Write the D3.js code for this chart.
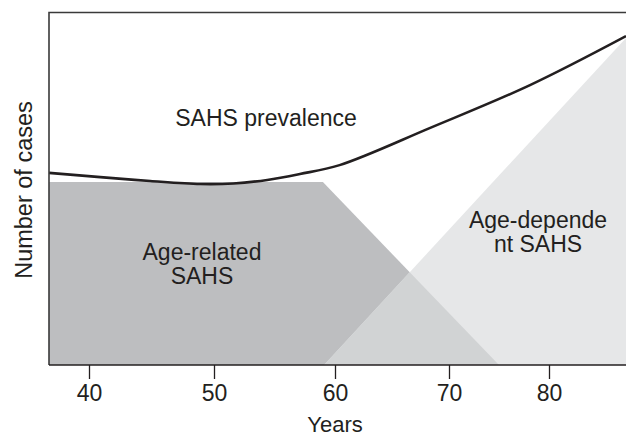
<!DOCTYPE html>
<html><head><meta charset="utf-8">
<script src="https://cdn.jsdelivr.net/npm/d3@7"></script>
<style>body{margin:0;background:#fff}svg{display:block}text{font-family:"Liberation Sans",Arial,Helvetica,sans-serif;fill:#231f20}</style>
</head><body>
<svg id="c" width="626" height="436"></svg>
<script>
// Data
const tickYears = [40, 50, 60, 70, 80];
const xDomainEdges = [36.8, 87.7];
const prevalenceYears = [36.8, 40.9, 44.9, 48.9, 51.6, 54.4, 57.1, 60.4, 68.3, 78.1, 87.7];
const prevalenceCases = [54.5, 53.3, 52.2, 51.35, 51.5, 52.5, 54.2, 56.7, 67.2, 79.4, 93.3];
const ageRelatedYears = [36.8, 36.8, 59.0, 75.0];
const ageRelatedCases = [0, 51.9, 51.9, 0];
const ageDependentYears = [59.1, 87.7, 87.7];
const ageDependentCases = [0, 92.8, 0];
const labels = {x: "Years", y: "Number of cases", prevalence: "SAHS prevalence",
  ageRelated: ["Age-related", "SAHS"], ageDependent: ["Age-depende", "nt SAHS"]};

const svg = d3.select("#c");
const mLeft = 49, mRight = 626, mTop = 12.5, mBottom = 365;
// axis (non-uniform spacing as in the original figure)
const x = d3.scaleLinear()
  .domain([xDomainEdges[0], 40, 50, 60, 70, 80, xDomainEdges[1]])
  .range([mLeft, 89, 214, 335, 449, 549, mRight]);
const y = d3.scaleLinear().domain([0, 100]).range([mBottom, mTop]);

const poly = (xs, ys) => d3.line().x((d,i)=>x(xs[i])).y((d,i)=>y(ys[i]))(xs) + "Z";

const ar = poly(ageRelatedYears, ageRelatedCases);
const ad = poly(ageDependentYears, ageDependentCases);

svg.append("defs").append("clipPath").attr("id","arClip").append("path").attr("d", ar);

svg.append("path").attr("d", ar).attr("fill", "#bdbec0");
svg.append("path").attr("d", ad).attr("fill", "#e6e7e8");
svg.append("path").attr("d", ad).attr("fill", "#d1d3d4").attr("clip-path","url(#arClip)");

// prevalence curve
svg.append("path")
  .attr("d", d3.line().curve(d3.curveCatmullRom.alpha(0.5))
    .x((d,i)=>x(prevalenceYears[i])).y((d,i)=>y(prevalenceCases[i]))(prevalenceYears))
  .attr("fill","none").attr("stroke","#231f20").attr("stroke-width",2.6);

// frame: left, top
svg.append("path").attr("d", `M${mLeft},${mBottom}V${mTop}H${mRight}`)
  .attr("fill","none").attr("stroke","#3a3a3a").attr("stroke-width",1.6);

// x axis
const ax = svg.append("g").attr("transform", `translate(0,${mBottom})`)
  .call(d3.axisBottom(x).tickValues(tickYears).tickSize(14).tickPadding(6).tickSizeOuter(0));
ax.select(".domain").attr("d", `M${mLeft},0H${mRight}`).attr("stroke","#231f20").attr("stroke-width",1.6);
ax.selectAll(".tick line").attr("stroke","#231f20").attr("stroke-width",1.3);
ax.selectAll(".tick text").attr("font-size",23).attr("font-family",null).style("fill","#231f20");

svg.append("text").attr("x",335).attr("y",432).attr("text-anchor","middle").attr("font-size",22).text(labels.x);
svg.append("text").attr("transform","translate(32,190) rotate(-90)").attr("text-anchor","middle")
  .attr("font-size",23.5).text(labels.y);

svg.append("text").attr("x",266).attr("y",126).attr("text-anchor","middle").attr("font-size",23).text(labels.prevalence);

const t1 = svg.append("text").attr("text-anchor","middle").attr("font-size",23);
labels.ageRelated.forEach((s,i)=>t1.append("tspan").attr("x",202).attr("y",260+i*24).text(s));
const t2 = svg.append("text").attr("text-anchor","middle").attr("font-size",23);
labels.ageDependent.forEach((s,i)=>t2.append("tspan").attr("x",538).attr("y",228+i*24).text(s));
</script>
</body></html>
